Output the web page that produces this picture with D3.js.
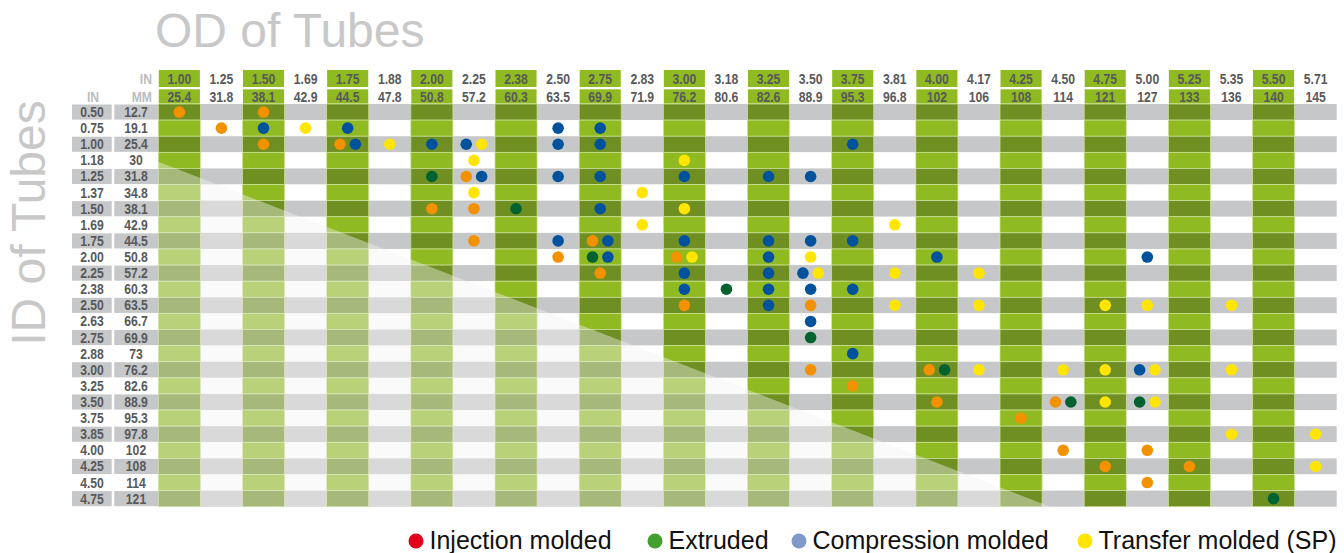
<!DOCTYPE html>
<html>
<head>
<meta charset="utf-8">
<script src="https://cdn.jsdelivr.net/npm/d3@7"></script>
<style>
  body { margin: 0; background: #fff; }
  .num { font-family: "Liberation Sans", Arial, sans-serif; font-weight: bold; font-size: 14.5px; fill: #58595b; }
  .hdr { fill: #bcbdc0; }
  .big { font-family: "Liberation Sans", Arial, sans-serif; font-size: 48px; fill: #c8c8c8; }
  .leg { font-family: "Liberation Sans", Arial, sans-serif; font-size: 25px; fill: #111; }
</style>
</head>
<body>
<svg id="chart" width="1344" height="553"></svg>
<script>
// outer diameters (columns)
var odIn = ["1.00","1.25","1.50","1.69","1.75","1.88","2.00","2.25","2.38","2.50","2.75","2.83","3.00","3.18",
            "3.25","3.50","3.75","3.81","4.00","4.17","4.25","4.50","4.75","5.00","5.25","5.35","5.50","5.71"];
var odMm = ["25.4","31.8","38.1","42.9","44.5","47.8","50.8","57.2","60.3","63.5","69.9","71.9","76.2","80.6",
            "82.6","88.9","95.3","96.8","102","106","108","114","121","127","133","136","140","145"];
// inner diameters (rows)
var idIn = ["0.50","0.75","1.00","1.18","1.25","1.37","1.50","1.69","1.75","2.00","2.25","2.38","2.50",
            "2.63","2.75","2.88","3.00","3.25","3.50","3.75","3.85","4.00","4.25","4.50","4.75"];
var idMm = ["12.7","19.1","25.4","30","31.8","34.8","38.1","42.9","44.5","50.8","57.2","60.3","63.5",
            "66.7","69.9","73","76.2","82.6","88.9","95.3","97.8","102","108","114","121"];

var processes = ["Injection molded", "Extruded", "Compression molded", "Transfer molded (SP)"];
var dotColors = ["#f39200", "#00622f", "#00529c", "#ffe500"];
var legendColors = ["#e3001b", "#43a02e", "#7f99ca", "#ffe500"];

// [ID, OD] pairs per process
var injection = [["0.50","1.00"],["0.50","1.50"],["0.75","1.25"],["1.00","1.50"],["1.00","1.75"],["1.25","2.25"],
  ["1.50","2.00"],["1.50","2.25"],["1.75","2.25"],["1.75","2.75"],["2.00","2.50"],["2.00","3.00"],["2.25","2.75"],
  ["2.50","3.00"],["2.50","3.50"],["3.00","3.50"],["3.00","4.00"],["3.25","3.75"],["3.50","4.00"],["3.50","4.50"],
  ["3.75","4.25"],["4.00","4.50"],["4.00","5.00"],["4.25","4.75"],["4.25","5.25"],["4.50","5.00"]];
var extruded = [["1.25","2.00"],["1.50","2.38"],["2.00","2.75"],["2.38","3.18"],["2.75","3.50"],["3.00","4.00"],
  ["3.50","4.50"],["3.50","5.00"],["4.75","5.50"]];
var compression = [["0.75","1.50"],["0.75","1.75"],["0.75","2.50"],["0.75","2.75"],
  ["1.00","1.75"],["1.00","2.00"],["1.00","2.25"],["1.00","2.50"],["1.00","2.75"],["1.00","3.75"],
  ["1.25","2.25"],["1.25","2.50"],["1.25","2.75"],["1.25","3.00"],["1.25","3.25"],["1.25","3.50"],
  ["1.50","2.75"],
  ["1.75","2.50"],["1.75","2.75"],["1.75","3.00"],["1.75","3.25"],["1.75","3.50"],["1.75","3.75"],
  ["2.00","2.75"],["2.00","3.25"],["2.00","4.00"],["2.00","5.00"],
  ["2.25","3.00"],["2.25","3.25"],["2.25","3.50"],
  ["2.38","3.00"],["2.38","3.25"],["2.38","3.50"],["2.38","3.75"],
  ["2.50","3.25"],["2.63","3.50"],["2.88","3.75"],["3.00","5.00"]];
var transfer = [["0.75","1.69"],["1.00","1.88"],["1.00","2.25"],["1.18","2.25"],["1.18","3.00"],["1.37","2.25"],
  ["1.37","2.83"],["1.50","3.00"],["1.69","2.83"],["1.69","3.81"],["2.00","3.00"],["2.00","3.50"],["2.25","3.50"],
  ["2.25","3.81"],["2.25","4.17"],["2.50","3.81"],["2.50","4.17"],["2.50","4.75"],["2.50","5.00"],["2.50","5.35"],
  ["3.00","4.17"],["3.00","4.50"],["3.00","4.75"],["3.00","5.00"],["3.00","5.35"],["3.50","4.75"],["3.50","5.00"],
  ["3.85","5.35"],["3.85","5.71"],["4.25","5.71"]];

var series = [injection, extruded, compression, transfer];

var svg = d3.select("#chart");

var x = d3.scaleBand().domain(odIn).range([158.3, 1336.7]);
var y = d3.scaleBand().domain(idIn).range([104, 506.7]);

var gray = "#c6c7c9", darkGreen = "#6f8f23", lightGreen = "#8fba22";

// squeeze the bold labels so they look like a condensed face
function narrow(sel) {
  sel.each(function() {
    var w = this.getComputedTextLength();
    d3.select(this).attr("textLength", w * 0.84).attr("lengthAdjust", "spacingAndGlyphs");
  });
}

// titles
svg.append("text").attr("class", "big").attr("x", 155).attr("y", 46.5).text("OD of Tubes");
svg.append("text").attr("class", "big")
  .attr("transform", "translate(45,223) rotate(-90)")
  .attr("text-anchor", "middle")
  .text("ID of Tubes");

// row backgrounds
svg.append("g").selectAll("rect")
  .data(idIn)
  .enter()
  .append("rect")
  .attr("x", x.range()[0])
  .attr("y", function(d) { return y(d); })
  .attr("width", x.range()[1] - x.range()[0])
  .attr("height", y.bandwidth())
  .attr("fill", function(d, i) { return i % 2 == 0 ? gray : "#fff"; });

// green columns
var greenCols = odIn.filter(function(d, i) { return i % 2 == 0; });
var cells = [];
greenCols.forEach(function(c) {
  idIn.forEach(function(r, i) { cells.push({ od: c, id: r, dark: i % 2 == 0 }); });
});
svg.append("g").selectAll("rect")
  .data(cells)
  .enter()
  .append("rect")
  .attr("x", function(d) { return x(d.od); })
  .attr("y", function(d) { return y(d.id); })
  .attr("width", x.bandwidth())
  .attr("height", y.bandwidth())
  .attr("fill", function(d) { return d.dark ? darkGreen : lightGreen; })
  .attr("stroke", "#cfe39c")
  .attr("stroke-width", 0.7);

// row labels
var rowLab = svg.append("g");
var evenRows = idIn.filter(function(d, i) { return i % 2 == 0; });
rowLab.selectAll(".inbox")
  .data(evenRows)
  .enter()
  .append("rect")
  .attr("x", 72).attr("width", 39.7)
  .attr("y", function(d) { return y(d) + 0.5; })
  .attr("height", y.bandwidth() - 1)
  .attr("fill", gray);
rowLab.selectAll(".mmbox")
  .data(evenRows)
  .enter()
  .append("rect")
  .attr("x", 114.3).attr("width", 43.8)
  .attr("y", function(d) { return y(d) + 0.5; })
  .attr("height", y.bandwidth() - 1)
  .attr("fill", gray);
rowLab.selectAll(".inlab")
  .data(idIn)
  .enter()
  .append("text")
  .attr("class", "num")
  .attr("x", 92)
  .attr("y", function(d) { return y(d) + y.bandwidth() / 2 + 5; })
  .attr("text-anchor", "middle")
  .text(function(d) { return d; })
  .call(narrow);
rowLab.selectAll(".mmlab")
  .data(idMm)
  .enter()
  .append("text")
  .attr("class", "num")
  .attr("x", 136)
  .attr("y", function(d, i) { return y(idIn[i]) + y.bandwidth() / 2 + 5; })
  .attr("text-anchor", "middle")
  .text(function(d) { return d; })
  .call(narrow);

// column header
var head = svg.append("g");
head.selectAll(".hbox")
  .data(greenCols)
  .enter()
  .append("rect")
  .attr("x", function(d) { return x(d) + 0.5; })
  .attr("width", x.bandwidth() - 1)
  .attr("y", 70).attr("height", 17)
  .attr("fill", lightGreen);
head.selectAll(".hbox2")
  .data(greenCols)
  .enter()
  .append("rect")
  .attr("x", function(d) { return x(d) + 0.5; })
  .attr("width", x.bandwidth() - 1)
  .attr("y", 89.3).attr("height", 14.2)
  .attr("fill", lightGreen);
head.selectAll(".hin")
  .data(odIn)
  .enter()
  .append("text")
  .attr("class", "num")
  .attr("x", function(d) { return x(d) + x.bandwidth() / 2; })
  .attr("y", 83.5)
  .attr("text-anchor", "middle")
  .text(function(d) { return d; })
  .call(narrow);
head.selectAll(".hmm")
  .data(odMm)
  .enter()
  .append("text")
  .attr("class", "num")
  .attr("x", function(d, i) { return x(odIn[i]) + x.bandwidth() / 2; })
  .attr("y", 101.5)
  .attr("text-anchor", "middle")
  .text(function(d) { return d; })
  .call(narrow);
head.append("text").attr("class", "num hdr").attr("x", 152).attr("y", 83.5).attr("text-anchor", "end").text("IN").call(narrow);
head.append("text").attr("class", "num hdr").attr("x", 93).attr("y", 101.5).attr("text-anchor", "middle").text("IN").call(narrow);
head.append("text").attr("class", "num hdr").attr("x", 152).attr("y", 101.5).attr("text-anchor", "end").text("MM").call(narrow);

// dots, grouped per cell, side by side when more than one
var byCell = {};
series.forEach(function(list, s) {
  list.forEach(function(p) {
    var key = p[0] + "|" + p[1];
    (byCell[key] = byCell[key] || []).push({ id: p[0], od: p[1], s: s });
  });
});
var dots = [];
Object.keys(byCell).forEach(function(k) {
  var g = byCell[k].sort(function(a, b) { return a.s - b.s; });
  g.forEach(function(d, j) {
    d.dx = (j - (g.length - 1) / 2) * 15.4;
    dots.push(d);
  });
});
svg.append("g").selectAll("circle")
  .data(dots)
  .enter()
  .append("circle")
  .attr("cx", function(d) { return x(d.od) + x.bandwidth() / 2 + d.dx; })
  .attr("cy", function(d) { return y(d.id) + y.bandwidth() / 2; })
  .attr("r", 5.8)
  .attr("fill", function(d) { return dotColors[d.s]; });

// pale triangle over the impossible sizes
svg.append("path")
  .attr("d", "M158.3,161.7L1050,506.7L158.3,506.7Z")
  .attr("fill", "#f2f2f2")
  .attr("fill-opacity", 0.42);

// legend
var leg = svg.append("g");
var legX = [416, 655, 799, 1085];
processes.forEach(function(p, i) {
  leg.append("circle").attr("cx", legX[i]).attr("cy", 541).attr("r", 7.5).attr("fill", legendColors[i]);
  leg.append("text").attr("class", "leg").attr("x", legX[i] + 13.5).attr("y", 549).text(p);
});
</script>
</body>
</html>
